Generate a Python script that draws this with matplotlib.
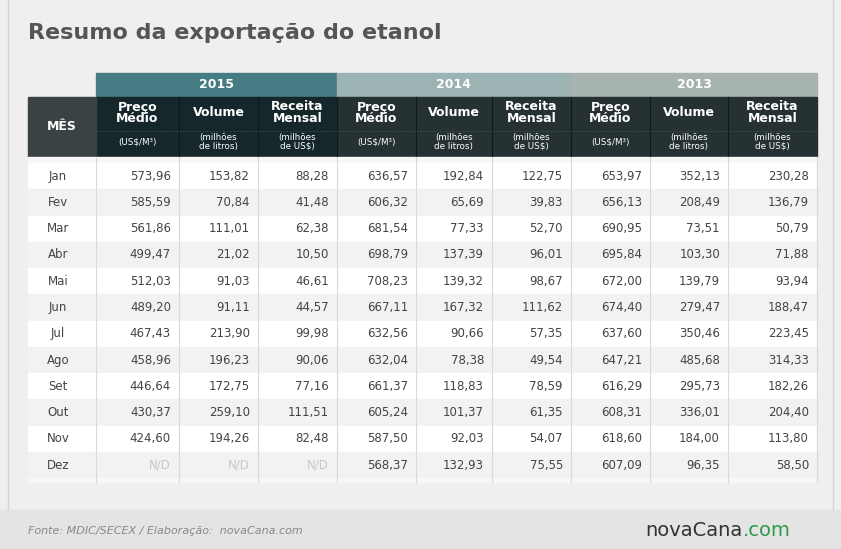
import matplotlib
matplotlib.use("Agg")
import matplotlib.pyplot as plt
from matplotlib.patches import Rectangle

months = ["Jan","Fev","Mar","Abr","Mai","Jun","Jul","Ago","Set","Out","Nov","Dez"]
years = ["2015","2014","2013"]
preco_2015 = ["573,96","585,59","561,86","499,47","512,03","489,20","467,43","458,96","446,64","430,37","424,60","N/D"]
vol_2015 = ["153,82","70,84","111,01","21,02","91,03","91,11","213,90","196,23","172,75","259,10","194,26","N/D"]
rec_2015 = ["88,28","41,48","62,38","10,50","46,61","44,57","99,98","90,06","77,16","111,51","82,48","N/D"]
preco_2014 = ["636,57","606,32","681,54","698,79","708,23","667,11","632,56","632,04","661,37","605,24","587,50","568,37"]
vol_2014 = ["192,84","65,69","77,33","137,39","139,32","167,32","90,66","78,38","118,83","101,37","92,03","132,93"]
rec_2014 = ["122,75","39,83","52,70","96,01","98,67","111,62","57,35","49,54","78,59","61,35","54,07","75,55"]
preco_2013 = ["653,97","656,13","690,95","695,84","672,00","674,40","637,60","647,21","616,29","608,31","618,60","607,09"]
vol_2013 = ["352,13","208,49","73,51","103,30","139,79","279,47","350,46","485,68","295,73","336,01","184,00","96,35"]
rec_2013 = ["230,28","136,79","50,79","71,88","93,94","188,47","223,45","314,33","182,26","204,40","113,80","58,50"]
cols = [preco_2015, vol_2015, rec_2015, preco_2014, vol_2014, rec_2014, preco_2013, vol_2013, rec_2013]
head_main = ["Preço\nMédio", "Volume", "Receita\nMensal"]
head_unit = ["(US$/M³)", "(milhões\nde litros)", "(milhões\nde US$)"]

fig = plt.figure(figsize=(8.41, 5.49), dpi=100)
ax = fig.add_axes([0, 0, 1, 1])
ax.set_xlim(0, 841); ax.set_ylim(549, 0); ax.axis("off")
ax.add_patch(Rectangle((0, 0), 841, 549, color="#efefef"))
ax.add_patch(Rectangle((0, 510), 841, 39, color="#e4e4e4"))
ax.plot([8, 8], [0, 510], color="#d5d5d5", lw=1)
ax.plot([833, 833], [0, 510], color="#d5d5d5", lw=1)
ax.text(28, 33, "Resumo da exportação do etanol", fontsize=16, color="#555555", va="center", fontweight="bold")

xb = [96, 179, 258, 337, 416, 492, 571, 650, 728, 817]
ycol = ["#457b82", "#9bb3b3", "#a7b3b1"]
cellc = ["#15272a", "#263133", "#263133"]
for g in range(3):
    x0, x1 = xb[3*g], xb[3*g+3]
    ax.add_patch(Rectangle((x0, 73), x1-x0, 24, color=ycol[g]))
    ax.text((x0+x1)/2, 85, years[g], ha="center", va="center", fontsize=9, color="#ffffff", fontweight="bold")
    ax.add_patch(Rectangle((x0, 97), x1-x0, 60, color=cellc[g]))
ax.add_patch(Rectangle((28, 97), 68, 60, color="#3a4243"))
ax.text(62, 127, "MÊS", ha="center", va="center", fontsize=9, color="white", fontweight="bold")
for i in range(9):
    cx = (xb[i]+xb[i+1])/2
    ax.text(cx, 113, head_main[i % 3], ha="center", va="center", fontsize=9, color="white", fontweight="bold", linespacing=0.9)
    ax.text(cx, 142, head_unit[i % 3], ha="center", va="center", fontsize=6.3, color="white", linespacing=0.9)
    if i > 0:
        ax.plot([xb[i]]*2, [97, 157], color="#0c1a1c", lw=0.8)
ax.plot([96, 817], [131, 131], color="#3d4f52", lw=0.6, ls=(0, (2, 2)))

rh = 26.27
ytop = 163
ax.add_patch(Rectangle((28, 157), 789, ytop-157, color="#f7f7f7"))
for r, m in enumerate(months):
    y0 = ytop + r*rh
    ax.add_patch(Rectangle((28, y0), 789, rh, color="#ffffff" if r % 2 == 0 else "#f2f2f2"))
    yc = y0 + rh/2
    ax.text(58, yc, m, ha="center", va="center", fontsize=8.5, color="#444444")
    for i in range(9):
        v = cols[i][r]
        nd = v == "N/D"
        ax.text(xb[i+1]-8, yc, v, ha="right", va="center", fontsize=8.5,
                color="#c8c8c8" if nd else "#444444")
ybot = ytop + 12*rh
ax.add_patch(Rectangle((28, ybot), 789, 4, color="#f7f7f7"))
for x in xb:
    ax.plot([x, x], [157, ybot+4], color="#d9d9d9", lw=0.8)
ax.plot([817, 817], [157, ybot+4], color="#d9d9d9", lw=0.8)

ax.text(28, 531, "Fonte: MDIC/SECEX / Elaboração:  novaCana.com", fontsize=8, style="italic", color="#888888", va="center")
ax.text(743, 530, "novaCana", fontsize=14, color="#333333", va="center", ha="right")
ax.text(743, 530, ".com", fontsize=14, color="#2e9a4a", va="center", ha="left")

fig.savefig("out.png", dpi=100)
